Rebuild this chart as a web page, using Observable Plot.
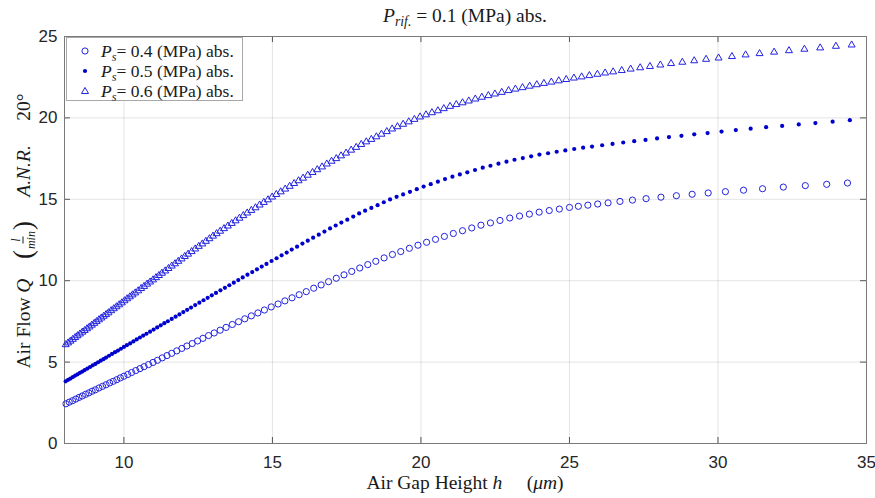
<!DOCTYPE html>
<html><head><meta charset="utf-8">
<script src="https://cdn.jsdelivr.net/npm/d3@7"></script>
<script src="https://cdn.jsdelivr.net/npm/@observablehq/plot@0.6"></script>
<style>
html,body{margin:0;padding:0;background:#fff;}
#wrap{position:relative;width:875px;height:498px;overflow:hidden;font-family:"Liberation Serif","Times New Roman",serif;color:#1a1a1a;}
#wrap svg.plot{position:absolute;left:0;top:0;}
.title{position:absolute;left:265px;width:400px;top:5px;text-align:center;font-size:19.5px;line-height:22px;white-space:nowrap;}
.xlabel{position:absolute;left:265px;width:400px;top:474px;text-align:center;font-size:19.5px;line-height:18px;white-space:nowrap;}
.ylabel{position:absolute;left:23px;top:231px;transform:translate(-50%,-50%) rotate(-90deg);font-size:19.5px;white-space:nowrap;display:flex;align-items:center;}
.frac{display:inline-flex;flex-direction:column;align-items:center;font-size:12px;font-style:italic;line-height:1;margin:0 1px;}
.frac .num{border-bottom:1px solid #1a1a1a;padding:0 2px 1px;}
.frac .den{padding-top:1px;}
.paren{font-size:27px;line-height:1;}
.legend{position:absolute;left:66px;top:37px;width:177px;height:64px;box-sizing:border-box;border:1px solid #a8a8a8;background:#fff;font-size:17.5px;}
.legend .row{position:absolute;left:0;height:20px;display:flex;align-items:center;white-space:nowrap;}
.legend svg{position:absolute;left:11px;top:3px;}
.legend .txt{position:absolute;left:34px;top:0;line-height:20px;}
sub{font-size:0.7em;vertical-align:-0.3em;line-height:0;}
</style></head>
<body><div id="wrap"></div>
<script>
const xTicks = [10, 15, 20, 25, 30, 35];
const yTicks = [0, 5, 10, 15, 20, 25];
const seriesLabels = ["0.4", "0.5", "0.6"];

// P_s = 0.4 MPa (circles)
const h04 = [8.05,8.16,8.27,8.38,8.49,8.60,8.71,8.82,8.93,9.04,9.16,9.28,9.40,9.52,9.64,9.76,9.88,10.00,
10.13,10.26,10.40,10.54,10.68,10.83,10.98,11.13,11.29,11.45,11.61,11.78,11.95,12.12,12.30,12.48,12.66,12.85,13.04,
13.24,13.44,13.65,13.86,14.07,14.29,14.51,14.73,14.96,15.19,15.42,15.66,15.90,16.14,16.39,16.64,16.89,17.15,17.41,17.67,17.94,18.21,18.48,18.76,19.04,
19.32,19.61,19.90,20.19,20.49,20.79,21.09,21.40,21.71,22.02,22.34,22.66,22.99,23.32,23.65,23.98,24.32,24.66,25.00,25.30,25.62,25.95,26.30,
26.70,27.12,27.58,28.08,28.60,29.13,29.67,30.25,30.86,31.50,32.20,32.94,33.66,34.36];
const q04 = [2.44,2.54,2.63,2.73,2.83,2.92,3.02,3.11,3.21,3.30,3.41,3.51,3.61,3.72,3.82,3.92,4.03,4.13,
4.24,4.36,4.48,4.60,4.72,4.85,4.98,5.11,5.26,5.40,5.54,5.69,5.84,5.99,6.14,6.30,6.46,6.63,6.79,
6.96,7.13,7.31,7.48,7.66,7.84,8.02,8.20,8.39,8.57,8.76,8.95,9.14,9.33,9.54,9.74,9.94,10.15,10.36,10.57,10.78,10.99,11.19,11.40,11.61,
11.79,11.99,12.18,12.36,12.54,12.72,12.90,13.07,13.24,13.41,13.55,13.70,13.85,13.97,14.09,14.21,14.31,14.40,14.50,14.57,14.64,14.71,14.78,
14.87,14.95,15.04,15.13,15.22,15.31,15.39,15.47,15.56,15.65,15.75,15.84,15.92,16.00];

// P_s = 0.5 MPa (dots)
const h05 = [8.04,8.12,8.20,8.28,8.36,8.44,8.52,8.60,8.68,8.77,8.86,8.95,9.04,9.13,9.22,9.31,9.40,9.50,9.60,9.70,9.80,9.90,10.00,
10.10,10.21,10.32,10.43,10.54,10.65,10.76,10.88,11.00,11.12,11.24,11.36,11.48,11.61,11.74,11.87,12.00,12.13,12.26,12.40,12.54,12.68,12.82,12.96,
13.10,13.25,13.40,13.55,13.70,13.85,14.00,14.16,14.32,14.48,14.64,14.80,14.97,15.14,15.31,15.48,15.65,15.83,16.01,16.19,16.37,16.56,16.75,16.94,17.13,17.32,17.52,17.72,17.92,18.12,18.33,18.54,18.75,18.96,
19.18,19.40,19.63,19.86,20.09,20.33,20.57,20.81,21.06,21.31,21.56,21.82,22.08,22.34,22.61,22.88,23.15,23.43,23.71,23.99,24.28,24.57,24.86,25.16,25.46,25.76,
26.10,26.45,26.81,27.18,27.56,27.95,28.35,28.77,29.20,29.65,30.12,30.60,31.10,31.62,32.16,32.72,33.28,33.86,34.44];
const q05 = [3.82,3.91,3.99,4.08,4.17,4.25,4.34,4.42,4.51,4.60,4.70,4.80,4.89,4.99,5.09,5.18,5.28,5.39,5.50,5.61,5.71,5.82,5.93,
6.04,6.15,6.27,6.39,6.51,6.63,6.74,6.87,7.00,7.13,7.26,7.39,7.51,7.65,7.79,7.93,8.07,8.21,8.35,8.50,8.65,8.80,8.95,9.10,
9.25,9.41,9.56,9.72,9.88,10.04,10.20,10.37,10.53,10.70,10.87,11.03,11.21,11.38,11.56,11.73,11.91,12.09,12.28,12.46,12.64,12.83,13.02,13.21,13.39,13.57,13.75,13.94,14.13,14.30,14.47,14.64,14.82,14.99,
15.15,15.30,15.46,15.62,15.78,15.93,16.08,16.24,16.39,16.53,16.66,16.80,16.94,17.06,17.19,17.31,17.43,17.53,17.64,17.75,17.83,17.92,18.00,18.09,18.17,18.24,
18.32,18.40,18.49,18.57,18.65,18.74,18.82,18.90,18.99,19.07,19.16,19.25,19.34,19.43,19.51,19.60,19.68,19.77,19.86];

// P_s = 0.6 MPa (triangles)
const h06 = [8.04,8.12,8.20,8.28,8.36,8.44,8.52,8.60,8.68,8.76,8.84,8.92,9.00,9.08,9.16,9.24,9.32,9.40,9.48,9.57,9.66,9.75,9.84,9.93,
10.02,10.11,10.20,10.29,10.38,10.48,10.58,10.68,10.78,10.88,10.98,11.08,11.18,11.28,11.39,11.50,11.61,11.72,11.83,11.94,12.05,12.16,12.28,12.40,12.52,12.64,12.76,12.88,13.00,
13.12,13.24,13.37,13.50,13.63,13.76,13.89,14.02,14.15,14.29,14.43,14.57,14.71,14.85,14.99,15.13,15.28,15.43,15.58,15.73,15.88,16.03,16.19,16.35,16.51,16.67,16.83,16.99,17.15,17.31,17.48,17.65,17.82,17.99,18.16,18.33,18.50,18.67,18.85,19.03,
19.21,19.40,19.59,19.78,19.97,20.17,20.37,20.57,20.77,20.98,21.19,21.40,21.61,21.83,22.05,22.27,22.49,22.72,22.95,23.18,23.42,23.66,23.90,24.14,24.39,24.64,24.89,25.15,25.41,25.67,25.94,
26.20,26.47,26.76,27.06,27.38,27.71,28.06,28.42,28.80,29.20,29.60,30.02,30.47,30.93,31.40,31.89,32.39,32.91,33.44,33.97,34.50];
const q06 = [6.07,6.18,6.29,6.40,6.51,6.62,6.73,6.84,6.94,7.05,7.16,7.27,7.38,7.49,7.60,7.71,7.82,7.92,8.03,8.16,8.28,8.40,8.52,8.64,
8.77,8.89,9.01,9.13,9.25,9.38,9.52,9.65,9.79,9.92,10.05,10.19,10.32,10.46,10.60,10.75,10.90,11.04,11.19,11.34,11.49,11.63,11.79,11.95,12.11,12.26,12.42,12.58,12.74,
12.89,13.04,13.20,13.36,13.52,13.68,13.84,14.00,14.16,14.32,14.48,14.65,14.81,14.97,15.14,15.30,15.46,15.63,15.80,15.97,16.14,16.30,16.48,16.65,16.82,16.99,17.17,17.34,17.50,17.67,17.84,18.02,18.19,18.37,18.53,18.68,18.84,19.00,19.16,19.32,
19.46,19.61,19.76,19.91,20.06,20.19,20.32,20.44,20.57,20.71,20.82,20.93,21.04,21.16,21.27,21.37,21.47,21.57,21.68,21.77,21.86,21.95,22.04,22.12,22.20,22.28,22.36,22.45,22.52,22.60,22.68,
22.76,22.83,22.91,23.00,23.08,23.16,23.25,23.34,23.42,23.51,23.60,23.68,23.77,23.87,23.95,24.04,24.13,24.22,24.30,24.40,24.48];

const rows = (h, q) => h.slice(0, Math.min(h.length, q.length)).map((x, i) => ({h: x, q: q[i]}));

const blue = "#2222e0";
const tickColor = "#555";

const chart = Plot.plot({
  width: 875,
  height: 498,
  marginLeft: 64,
  marginRight: 9,
  marginTop: 36,
  marginBottom: 55,
  x: {domain: [8, 35]},
  y: {domain: [0, 25]},
  style: {fontFamily: '"Liberation Sans", Arial, sans-serif', fontSize: "17px", color: "#262626", background: "transparent", overflow: "visible"},
  marks: [
    Plot.gridX(xTicks, {stroke: "#000", strokeOpacity: 0.11}),
    Plot.gridY(yTicks, {stroke: "#000", strokeOpacity: 0.11}),
    Plot.ruleX(xTicks, {y1: 0, y2: 0.37, stroke: tickColor}),
    Plot.ruleX(xTicks, {y1: 25, y2: 24.63, stroke: tickColor}),
    Plot.ruleY(yTicks, {x1: 8, x2: 8.2, stroke: tickColor}),
    Plot.ruleY(yTicks, {x1: 35, x2: 34.8, stroke: tickColor}),
    Plot.frame({stroke: "#7a7a7a"}),
    Plot.axisX(xTicks, {tickSize: 0, tickPadding: 12, label: null}),
    Plot.axisY(yTicks, {tickSize: 0, tickPadding: 7, label: null}),
    Plot.dot(rows(h04, q04), {x: "h", y: "q", r: 3.1, stroke: blue, strokeWidth: 1, fill: "none"}),
    Plot.dot(rows(h05, q05), {x: "h", y: "q", r: 2.1, fill: "#0000cc", stroke: "none"}),
    Plot.dot(rows(h06, q06), {x: "h", y: "q", r: 2.6, symbol: "triangle", stroke: blue, strokeWidth: 1, fill: "none"})
  ]
});
chart.classList.add("plot");
const wrap = document.getElementById("wrap");
wrap.appendChild(chart);

function addDiv(cls, html) {
  const d = document.createElement("div");
  d.className = cls;
  d.innerHTML = html;
  wrap.appendChild(d);
  return d;
}
addDiv("title", '<i>P</i><sub><i>rif.</i></sub> = 0.1 (MPa) abs.');
addDiv("xlabel", 'Air Gap Height <i>h</i>&nbsp;&nbsp;&nbsp;&nbsp;&nbsp;(<i>&mu;m</i>)');
addDiv("ylabel", '<span>Air Flow <i>Q</i></span>&nbsp;&nbsp;&nbsp;&nbsp;<span class="paren">(</span><span class="frac"><span class="num">l</span><span class="den">min</span></span><span class="paren">)</span>&nbsp;&nbsp;&nbsp;&nbsp;&nbsp;<i>A.N.R.</i>&nbsp;&nbsp;&nbsp;&nbsp;&nbsp;20&deg;');

const markers = [
  '<circle cx="7" cy="7" r="3.1" fill="none" stroke="' + blue + '" stroke-width="1"/>',
  '<circle cx="7" cy="7" r="2.1" fill="#0000cc"/>',
  '<path d="' + d3.symbol(d3.symbolTriangle, Math.PI * 2.6 * 2.6)() + '" transform="translate(7,7.5)" fill="none" stroke="' + blue + '" stroke-width="1"/>'
];
const legend = addDiv("legend", "");
seriesLabels.forEach((lab, i) => {
  const r = document.createElement("div");
  r.className = "row";
  r.style.top = (3 + i * 20) + "px";
  r.innerHTML = '<svg width="14" height="14">' + markers[i] + '</svg><span class="txt"><i>P</i><sub><i>s</i></sub>= ' + lab + ' (MPa) abs.</span>';
  legend.appendChild(r);
});
</script>
</body></html>
